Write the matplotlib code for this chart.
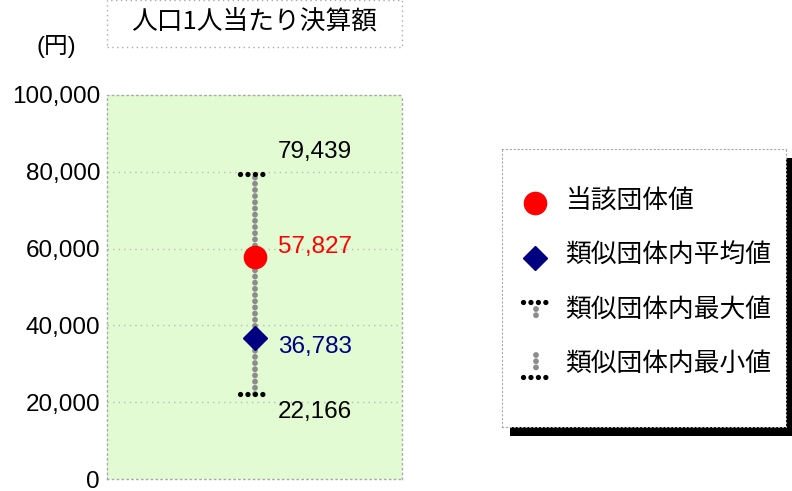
import matplotlib
matplotlib.use("Agg")
import matplotlib.pyplot as plt
from matplotlib.patches import Rectangle
from matplotlib.ticker import FuncFormatter

plt.rcParams['font.family'] = ['Liberation Sans', 'Noto Sans CJK JP', 'DejaVu Sans']

# ---- data ----
title = "人口1人当たり決算額"
unit_label = "(円)"
value_own = 57827        # 当該団体値
value_avg = 36783        # 類似団体内平均値
value_max = 79439        # 類似団体内最大値
value_min = 22166        # 類似団体内最小値
y_ticks = [0, 20000, 40000, 60000, 80000, 100000]
legend_labels = ["当該団体値", "類似団体内平均値", "類似団体内最大値", "類似団体内最小値"]

W, H = 792, 491
fig = plt.figure(figsize=(W / 100, H / 100), dpi=100)


def box(x0, y0, x1, y1):
    """pixel box (top-left origin) -> figure fraction rect"""
    return [x0 / W, 1 - y1 / H, (x1 - x0) / W, (y1 - y0) / H]


BORDER_COLOR = '#AAAAAA'
BORDER_LS = (0, (1, 2.5))
GRAY_DOTS = dict(color='#8C8C8C', lw=4.2, linestyle=(0, (0.01, 1.05)),
                 dash_capstyle='round', solid_capstyle='round')
BLACK_DOTS = dict(color='black', lw=3.8, linestyle=(0, (0.01, 1.4)),
                  dash_capstyle='round', solid_capstyle='round')

# ---- main plot ----
ax = fig.add_axes(box(107, 95, 402, 479))
ax.set_facecolor('#E3FBD3')
ax.set_xlim(-1, 1)
ax.set_ylim(0, 100000)
ax.set_yticks(y_ticks)
ax.yaxis.set_major_formatter(FuncFormatter(lambda v, _: f"{int(v):,}"))
ax.set_xticks([])
ax.tick_params(axis='y', length=0, pad=5, labelsize=17.5, colors='black')
for s in ax.spines.values():
    s.set_color(BORDER_COLOR)
    s.set_linewidth(1.0)
    s.set_linestyle(BORDER_LS)
for t in y_ticks[1:-1]:
    ax.axhline(t, color='#BBBBBB', lw=1.0, linestyle=(0, (1, 3)), zorder=1)

x0 = 0.0
cap_half = 0.10
# range bar (gray dots)
ax.plot([x0, x0], [value_min, value_max], zorder=2, **GRAY_DOTS)
# caps (black dots)
for v in (value_max, value_min):
    ax.plot([x0 - cap_half, x0 + cap_half], [v, v], zorder=3, **BLACK_DOTS)
ax.plot([x0], [value_avg], marker='D', ms=12.5, color='#000080', zorder=4, ls='none')
ax.plot([x0], [value_own], marker='o', ms=16, color='#FF0000', zorder=5, ls='none')

lab_kw = dict(textcoords='offset points', ha='left', va='center', fontsize=17.5)
ax.annotate(f"{value_max:,}", (x0, value_max), xytext=(17, 15.5), color='black', **lab_kw)
ax.annotate(f"{value_own:,}", (x0, value_own), xytext=(17, 7), color='#FF0000', **lab_kw)
ax.annotate(f"{value_avg:,}", (x0, value_avg), xytext=(17, -6.5), color='#000080', **lab_kw)
ax.annotate(f"{value_min:,}", (x0, value_min), xytext=(17, -13), color='black', **lab_kw)

# ---- title box ----
fig.add_artist(Rectangle((107 / W, 1 - 47 / H), 295 / W, 47 / H, transform=fig.transFigure,
                         fill=False, edgecolor=BORDER_COLOR, lw=1.0, linestyle=BORDER_LS))
fig.text(254 / W, 1 - 22 / H, title, ha='center', va='center', fontsize=18.5,
         family=['Noto Sans CJK JP', 'DejaVu Sans'])
fig.text(56 / W, 1 - 46 / H, unit_label, ha='center', va='center', fontsize=17)

# ---- legend panel ----
lx0, ly0, lx1, ly1 = 502, 149, 786, 427
shadow = Rectangle(((lx0 + 8) / W, 1 - (ly1 + 9) / H), (lx1 - lx0) / W, (ly1 - ly0) / H,
                   transform=fig.transFigure, facecolor='black', edgecolor='none', zorder=0)
fig.add_artist(shadow)
lax = fig.add_axes(box(lx0, ly0, lx1, ly1))
lax.set_zorder(3)
lax.set_xlim(lx0, lx1)
lax.set_ylim(ly1, ly0)
lax.set_facecolor('white')
lax.set_xticks([]); lax.set_yticks([])
for s in lax.spines.values():
    s.set_color(BORDER_COLOR)
    s.set_linestyle(BORDER_LS)

kx, tx = 535, 565
rows = [201, 256, 310, 364]
lax.plot([kx], [203], marker='o', ms=16, color='#FF0000', ls='none')
lax.plot([kx], [258], marker='D', ms=12.5, color='#000080', ls='none')
# max key
lax.plot([kx - 12, kx + 12], [302, 302], **BLACK_DOTS)
lax.plot([kx + 1, kx + 1], [309, 316], **GRAY_DOTS)
# min key
lax.plot([kx + 1, kx + 1], [355, 370], **GRAY_DOTS)
lax.plot([kx - 12, kx + 12], [377, 377], **BLACK_DOTS)
for lab, y in zip(legend_labels, rows):
    lax.text(tx, y, lab, ha='left', va='center', fontsize=18.5,
             family=['Noto Sans CJK JP', 'DejaVu Sans'])

fig.savefig("out.png", dpi=100)
